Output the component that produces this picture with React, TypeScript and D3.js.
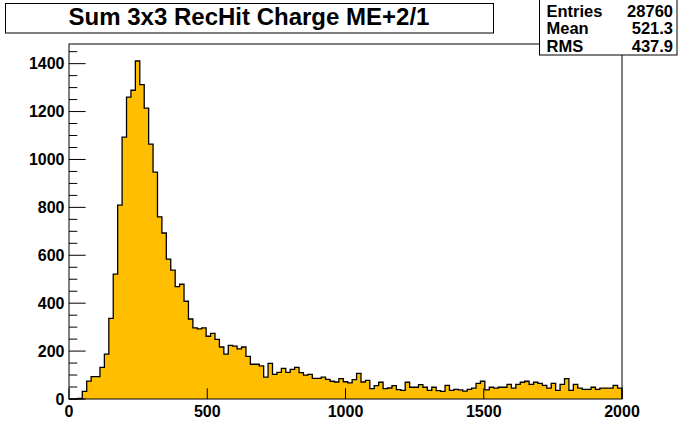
import React from "react";
import * as d3 from "d3";

const W = 692;
const H = 444;

const title = "Sum 3x3 RecHit Charge ME+2/1";
const statLabels = ["Entries", "Mean", "RMS"];
const statValues = ["28760", "521.3", "437.9"];

const binWidth = 16;
const counts = [
  0, 0, 2, 32, 75, 93, 93, 132, 187, 337,
  521, 809, 1093, 1260, 1289, 1411, 1312, 1214, 1064, 947,
  760, 693, 584, 538, 469, 479, 408, 334, 297, 293,
  297, 262, 274, 249, 217, 187, 224, 221, 209, 217,
  178, 145, 145, 138, 91, 149, 103, 111, 128, 111,
  124, 132, 110, 100, 103, 86, 86, 91, 82, 74,
  71, 85, 72, 67, 81, 107, 71, 78, 43, 56,
  70, 43, 46, 56, 39, 36, 70, 49, 49, 60,
  49, 36, 49, 35, 32, 57, 36, 40, 38, 33,
  40, 45, 65, 74, 38, 49, 45, 49, 49, 61,
  45, 61, 70, 74, 61, 70, 65, 57, 45, 65,
  36, 61, 85, 36, 61, 45, 40, 40, 49, 40,
  45, 45, 45, 57, 45,
];

const xTicks = [0, 500, 1000, 1500, 2000];
const yTicks = [0, 200, 400, 600, 800, 1000, 1200, 1400];
const yMinorStep = 50;
const xDomain = [0, 2000];
const yDomain = [0, 1482];

const FONT = "'Liberation Sans', Arial, Helvetica, sans-serif";
const FILL = "#ffbf00";

export default function App() {
  const left = 69, right = 622, top = 44, bottom = 399;
  const x = d3.scaleLinear().domain(xDomain).range([left, right]);
  const y = d3.scaleLinear().domain(yDomain).range([bottom, top]);

  const pts: [number, number][] = [[0, 0]];
  counts.forEach((c, i) => {
    pts.push([i * binWidth, c]);
    pts.push([(i + 1) * binWidth, c]);
  });
  pts.push([counts.length * binWidth, 0]);
  const line = d3.line<[number, number]>().x((d) => x(d[0])).y((d) => y(d[1]));
  const path = line(pts) || "";

  const minor = d3.range(0, yDomain[1], yMinorStep).filter((v) => v % 200 !== 0);

  return (
    <svg
      width={W}
      height={H}
      style={{ position: "absolute", left: 0, top: 0, background: "#fff" }}
      fontFamily={FONT}
      fontWeight="bold"
    >
      <rect x={0} y={0} width={W} height={H} fill="#fff" />
      {/* histogram */}
      <path d={path + "Z"} fill={FILL} stroke="none" />
      <path d={path} fill="none" stroke="#000" strokeWidth={1.3} />
      {/* frame */}
      <rect x={left} y={top} width={right - left} height={bottom - top} fill="none" stroke="#000" strokeWidth={1} />
      {/* y axis ticks */}
      {yTicks.map((v) => (
        <g key={"y" + v}>
          <line x1={left} x2={left + 16.6} y1={y(v)} y2={y(v)} stroke="#000" />
          <text x={64.5} y={y(v) + 5.7} fontSize={16} textAnchor="end">{v}</text>
        </g>
      ))}
      {minor.map((v) => (
        <line key={"m" + v} x1={left} x2={left + 8.3} y1={y(v)} y2={y(v)} stroke="#000" />
      ))}
      {/* x axis ticks */}
      {xTicks.map((v) => (
        <g key={"x" + v}>
          <line x1={x(v)} x2={x(v)} y1={bottom} y2={bottom - 10.7} stroke="#000" />
          <text x={x(v)} y={416.5} fontSize={16} textAnchor="middle">{v}</text>
        </g>
      ))}
      {/* title box */}
      <rect x={5.5} y={3.5} width={488} height={29.5} fill="#fff" stroke="#000" />
      <text x={249} y={24.5} fontSize={24} textAnchor="middle">{title}</text>
      {/* stats box */}
      <rect x={539.5} y={-0.5} width={137.5} height={55.5} fill="#fff" stroke="#000" />
      {statLabels.map((l, i) => (
        <g key={l}>
          <text x={546.5} y={17 + i * 17.4} fontSize={16.5}>{l}</text>
          <text x={673} y={17 + i * 17.4} fontSize={16.5} textAnchor="end">{statValues[i]}</text>
        </g>
      ))}
    </svg>
  );
}
